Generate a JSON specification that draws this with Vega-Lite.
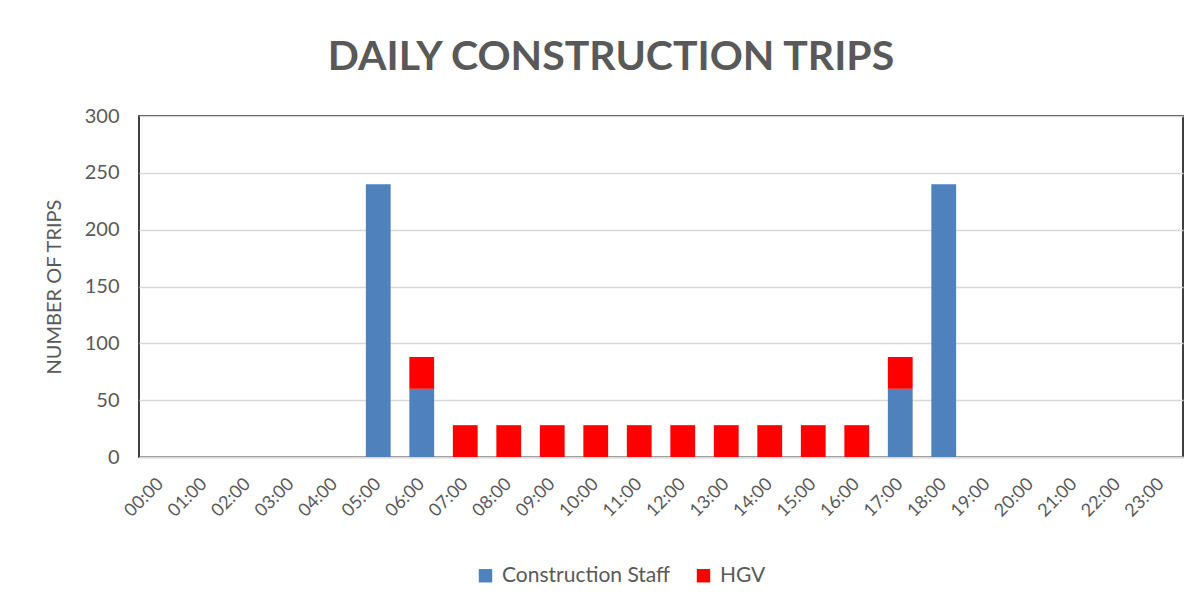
{
  "$schema": "https://vega.github.io/schema/vega-lite/v6.json",
  "width": 1044,
  "height": 341,
  "autosize": {"type": "none"},
  "padding": {"left": 139, "top": 116, "right": 19, "bottom": 150},
  "background": "white",
  "title": {
    "text": "DAILY CONSTRUCTION TRIPS",
    "font": "Lato",
    "fontSize": 41,
    "fontWeight": "bold",
    "color": "#595959",
    "anchor": "middle",
    "offset": 27,
    "dx": -50
  },
  "config": {
    "view": {"stroke": "black", "strokeWidth": 1.5},
    "font": "Lato"
  },
  "data": {
    "values": [
      {"hour": "00:00", "type": "Construction Staff", "trips": 0},
      {"hour": "01:00", "type": "Construction Staff", "trips": 0},
      {"hour": "02:00", "type": "Construction Staff", "trips": 0},
      {"hour": "03:00", "type": "Construction Staff", "trips": 0},
      {"hour": "04:00", "type": "Construction Staff", "trips": 0},
      {"hour": "05:00", "type": "Construction Staff", "trips": 240},
      {"hour": "06:00", "type": "Construction Staff", "trips": 60},
      {"hour": "06:00", "type": "HGV", "trips": 28},
      {"hour": "07:00", "type": "HGV", "trips": 28},
      {"hour": "08:00", "type": "HGV", "trips": 28},
      {"hour": "09:00", "type": "HGV", "trips": 28},
      {"hour": "10:00", "type": "HGV", "trips": 28},
      {"hour": "11:00", "type": "HGV", "trips": 28},
      {"hour": "12:00", "type": "HGV", "trips": 28},
      {"hour": "13:00", "type": "HGV", "trips": 28},
      {"hour": "14:00", "type": "HGV", "trips": 28},
      {"hour": "15:00", "type": "HGV", "trips": 28},
      {"hour": "16:00", "type": "HGV", "trips": 28},
      {"hour": "17:00", "type": "Construction Staff", "trips": 60},
      {"hour": "17:00", "type": "HGV", "trips": 28},
      {"hour": "18:00", "type": "Construction Staff", "trips": 240},
      {"hour": "19:00", "type": "Construction Staff", "trips": 0},
      {"hour": "20:00", "type": "Construction Staff", "trips": 0},
      {"hour": "21:00", "type": "Construction Staff", "trips": 0},
      {"hour": "22:00", "type": "Construction Staff", "trips": 0},
      {"hour": "23:00", "type": "Construction Staff", "trips": 0}
    ]
  },
  "mark": {"type": "bar"},
  "encoding": {
    "x": {
      "field": "hour",
      "type": "ordinal",
      "scale": {
        "domain": ["00:00","01:00","02:00","03:00","04:00","05:00","06:00","07:00","08:00","09:00","10:00","11:00","12:00","13:00","14:00","15:00","16:00","17:00","18:00","19:00","20:00","21:00","22:00","23:00"],
        "paddingInner": 0.43,
        "paddingOuter": 0.215
      },
      "axis": {
        "title": null,
        "labelAngle": -45,
        "labelAlign": "right",
        "labelBaseline": "middle",
        "labelFontSize": 18,
        "labelColor": "#595959",
        "labelPadding": 24,
        "ticks": false,
        "domainColor": "#d9d9d9",
        "domainWidth": 2,
        "grid": false
      }
    },
    "y": {
      "field": "trips",
      "type": "quantitative",
      "stack": "zero",
      "scale": {"domain": [0, 300], "nice": false},
      "axis": {
        "title": "NUMBER OF TRIPS",
        "titleFontSize": 20,
        "titleFontWeight": "normal",
        "titleColor": "#595959",
        "titlePadding": 20,
        "values": [0, 50, 100, 150, 200, 250, 300],
        "labelFontSize": 20,
        "labelColor": "#595959",
        "labelPadding": 20,
        "ticks": false,
        "domain": false,
        "gridColor": "#d9d9d9",
        "gridWidth": 1.5
      }
    },
    "color": {
      "field": "type",
      "type": "nominal",
      "scale": {"domain": ["Construction Staff", "HGV"], "range": ["#4F81BD", "#FF0000"]},
      "legend": {
        "title": null,
        "orient": "none",
        "legendX": 336,
        "legendY": 449,
        "direction": "horizontal",
        "symbolType": "square",
        "symbolSize": 180,
        "symbolStrokeWidth": 0,
        "labelFontSize": 21,
        "labelLimit": 400,
        "labelColor": "#595959",
        "columnPadding": 22,
        "labelOffset": 6
      }
    },
    "order": {"field": "type", "sort": "ascending"}
  }
}
